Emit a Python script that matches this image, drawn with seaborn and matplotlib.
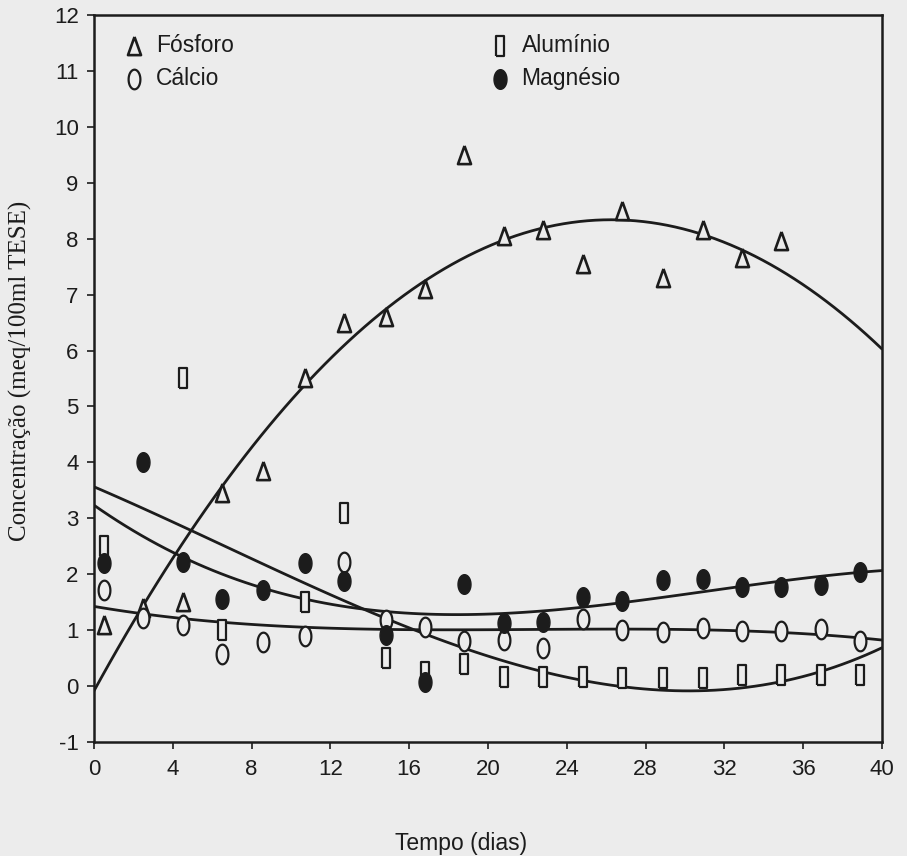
import numpy as np
import pandas as pd
import matplotlib
matplotlib.use("Agg")
import matplotlib.pyplot as plt
from matplotlib.path import Path
import seaborn as sns

# ---------------- data ----------------
dias = [0.5, 2.5, 4.5, 6.5, 8.6, 10.7, 12.7, 14.8, 16.8, 18.8,
        20.8, 22.8, 24.8, 26.8, 28.9, 30.9, 32.9, 34.9, 36.9, 38.9]
fosforo_dias = [0.5, 2.5, 4.5, 6.5, 8.6, 10.7, 12.7, 14.8, 16.8, 18.8,
                20.8, 22.8, 24.8, 26.8, 28.9, 30.9, 32.9, 34.9]
fosforo = [1.1, 1.4, 1.5, 3.45, 3.85, 5.5, 6.5, 6.6, 7.1, 9.5,
           8.05, 8.15, 7.55, 8.5, 7.3, 8.15, 7.65, 7.95]
calcio = [1.72, 1.22, 1.1, 0.58, 0.78, 0.9, 2.22, 1.18, 1.05, 0.8,
          0.82, 0.68, 1.2, 1.0, 0.97, 1.03, 0.98, 0.98, 1.02, 0.8]
aluminio_dias = [0.5, 4.5, 6.5, 10.7, 12.7, 14.8, 16.8, 18.8, 20.8, 22.8,
                 24.8, 26.8, 28.9, 30.9, 32.9, 34.9, 36.9, 38.9]
aluminio = [2.5, 5.5, 1.0, 1.5, 3.1, 0.5, 0.25, 0.4, 0.17, 0.17,
            0.17, 0.15, 0.15, 0.15, 0.2, 0.2, 0.2, 0.2]
magnesio = [2.2, 4.0, 2.22, 1.56, 1.72, 2.2, 1.87, 0.92, 0.08, 1.82,
            1.12, 1.15, 1.6, 1.52, 1.9, 1.92, 1.78, 1.78, 1.8, 2.04]

series_names = ["Fósforo", "Cálcio", "Alumínio", "Magnésio"]
x_ticks = [0, 4, 8, 12, 16, 20, 24, 28, 32, 36, 40]
y_ticks = list(range(-1, 13))

# ---------------- style ----------------
BG = "#ececec"
INK = "#1c1c1c"
sns.set_style("ticks")
plt.rcParams["font.family"] = ["Liberation Sans", "DejaVu Sans"]
plt.rcParams["axes.unicode_minus"] = False

fig = plt.figure(figsize=(9.07, 8.56), dpi=100, facecolor=BG)
ax = fig.add_axes([0.1036, 0.1332, 0.8688, 0.8493])
ax.set_facecolor(BG)
ax.set_xlim(0, 40)
ax.set_ylim(-1, 12)

# marker shapes
theta = np.linspace(0, 2 * np.pi, 40)
ellipse = Path(np.column_stack([0.6 * np.cos(theta), np.sin(theta)]), closed=True)
ellipse_f = Path(np.column_stack([0.66 * np.cos(theta), np.sin(theta)]), closed=True)
rect = [(-0.45, -1), (0.45, -1), (0.45, 1), (-0.45, 1), (-0.45, -1)]
tri = [(0, 1), (-0.68, -0.9), (0.68, -0.9), (0, 1)]

line_kw = dict(color=INK, lw=2.0)

# fitted curves (polynomial regressions computed by seaborn)
sns.regplot(x=fosforo_dias, y=fosforo, order=2, ci=None, scatter=False,
            truncate=False, line_kws=line_kw, ax=ax)
sns.regplot(x=dias, y=calcio, order=3, ci=None, scatter=False,
            truncate=False, line_kws=line_kw, ax=ax)
sns.regplot(x=aluminio_dias, y=aluminio, order=3, ci=None, scatter=False,
            truncate=False, line_kws=line_kw, ax=ax)
sns.regplot(x=dias, y=magnesio, order=3, ci=None, scatter=False,
            truncate=False, line_kws=line_kw, ax=ax)

# points
sns.scatterplot(x=fosforo_dias, y=fosforo, marker=tri, s=190, facecolor=BG,
                edgecolor=INK, linewidth=1.9, label=series_names[0], ax=ax, zorder=5)
sns.scatterplot(x=dias, y=calcio, marker=ellipse, s=200, facecolor=BG,
                edgecolor=INK, linewidth=1.6, label=series_names[1], ax=ax, zorder=5)
sns.scatterplot(x=aluminio_dias, y=aluminio, marker=rect, s=200, facecolor=BG,
                edgecolor=INK, linewidth=1.6, label=series_names[2], ax=ax, zorder=5)
sns.scatterplot(x=dias, y=magnesio, marker=ellipse_f, s=200, facecolor=INK,
                edgecolor=INK, linewidth=1.0, label=series_names[3], ax=ax, zorder=5)

ax.set_xlim(0, 40)
ax.set_ylim(-1, 12)
ax.set_xticks(x_ticks)
ax.set_yticks(y_ticks)
ax.tick_params(axis="both", direction="out", length=5, width=1.2,
               colors=INK, labelsize=16)
ax.tick_params(axis="x", pad=7)
ax.tick_params(axis="y", pad=6)
for sp in ax.spines.values():
    sp.set_visible(True)
    sp.set_color(INK)
    sp.set_linewidth(1.8)

ax.set_xlabel("Tempo (dias)", fontsize=16.5, color=INK)
ax.xaxis.set_label_coords(0.466, -0.124)
ax.set_ylabel("Concentração (meq/100ml TESE)", fontsize=18, color=INK,
              family=["Liberation Serif", "DejaVu Serif"])
ax.yaxis.set_label_coords(-0.079, 0.51)

leg = ax.legend(ncol=2, loc="upper left", bbox_to_anchor=(0.012, 1.0),
                frameon=False, fontsize=16.5, handletextpad=0.45,
                columnspacing=11.1, labelspacing=0.4, borderaxespad=0.45,
                handlelength=1.0)
for t in leg.get_texts():
    t.set_color(INK)

fig.savefig("out.png", dpi=100, facecolor=BG)
